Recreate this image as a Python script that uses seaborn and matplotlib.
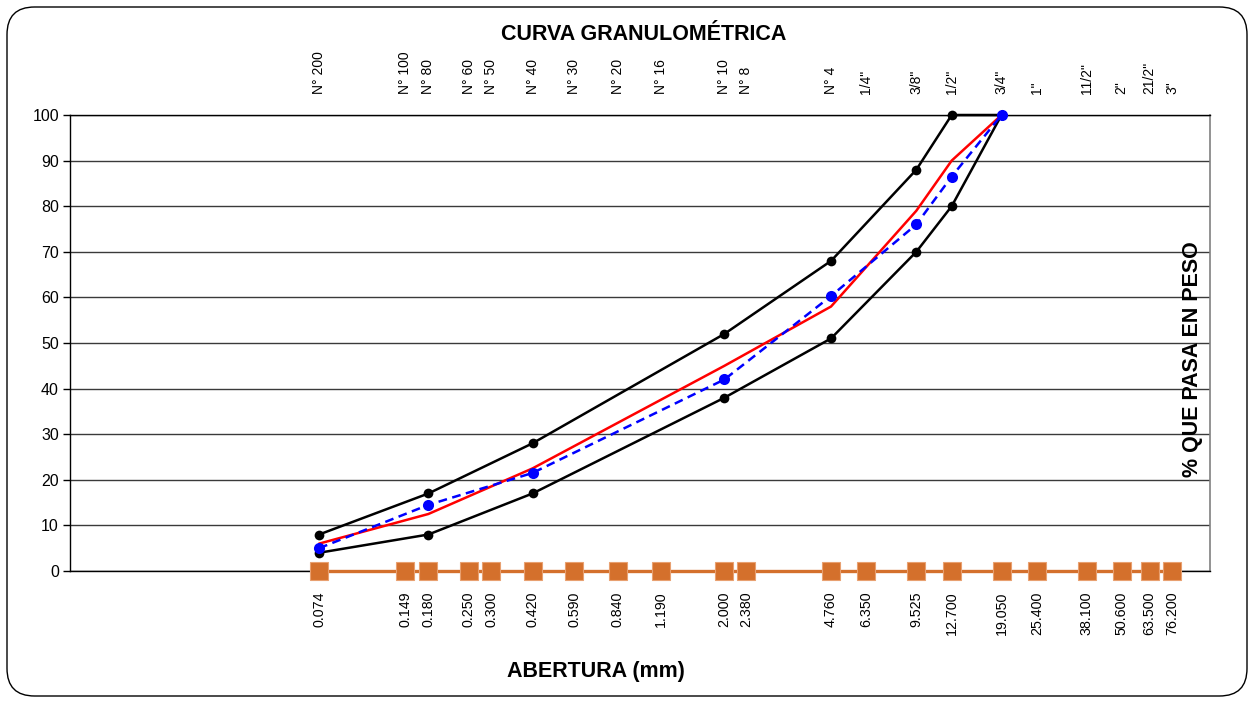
import numpy as np
import pandas as pd
import seaborn as sns
import matplotlib.pyplot as plt
from matplotlib.patches import FancyBboxPatch
from matplotlib.ticker import NullLocator

# sieve openings (mm) and names
aberturas = [0.074, 0.149, 0.180, 0.250, 0.300, 0.420, 0.590, 0.840, 1.190, 2.000, 2.380,
             4.760, 6.350, 9.525, 12.700, 19.050, 25.400, 38.100, 50.600, 63.500, 76.200]
tamices = ['N° 200', 'N° 100', 'N° 80', 'N° 60', 'N° 50', 'N° 40', 'N° 30', 'N° 20', 'N° 16',
           'N° 10', 'N° 8', 'N° 4', '1/4"', '3/8"', '1/2"', '3/4"', '1"', '11/2"', '2"', '21/2"', '3"']

# curves (% que pasa)
x_curva = [0.074, 0.180, 0.420, 2.000, 4.760, 9.525, 12.700, 19.050]
lim_sup = [8, 17, 28, 52, 68, 88, 100, 100]
lim_inf = [4, 8, 17, 38, 51, 70, 80, 100]
muestra = [5, 14.5, 21.5, 42, 60.3, 76, 86.5, 100]
ajuste = [6, 12.5, 22.5, 45, 58, 79, 90, 100]
base = [0] * len(aberturas)

sns.set_style('white')
plt.rcParams['font.family'] = ['Liberation Sans', 'DejaVu Sans']
plt.rcParams['text.color'] = 'black'
plt.rcParams['xtick.color'] = 'black'
plt.rcParams['ytick.color'] = 'black'

fig = plt.figure(figsize=(12.52, 7.03), dpi=100)
ax = fig.add_axes([70 / 1252, 1 - 571 / 703, 1140 / 1252, 456 / 703])

ax.set_xscale('log')
for y in range(10, 101, 10):
    ax.axhline(y, color='#3a3a3a', lw=1, zorder=0)
ax.axhline(0, color='black', lw=1, zorder=0)

sns.lineplot(x=aberturas, y=base, ax=ax, color='#D4702C', lw=2.4, marker='s', markersize=12.5,
             markeredgecolor='#E8A070', markeredgewidth=0.8, clip_on=False, zorder=3)
sns.lineplot(x=x_curva, y=lim_sup, ax=ax, color='black', lw=1.8, marker='o', markersize=7,
             markeredgewidth=0, clip_on=False, zorder=4)
sns.lineplot(x=x_curva, y=lim_inf, ax=ax, color='black', lw=1.8, marker='o', markersize=7,
             markeredgewidth=0, clip_on=False, zorder=4)
sns.lineplot(x=x_curva, y=ajuste, ax=ax, color='#FF0000', lw=1.8, zorder=5)
sns.lineplot(x=x_curva, y=muestra, ax=ax, color='#0000FF', lw=1.8, linestyle=(0, (3.5, 2.2)),
             marker='o', markersize=8, markeredgewidth=0, clip_on=False, zorder=6)

ax.set_xlim(0.00976, 103.8)
ax.set_ylim(0, 100)
ax.set_yticks(range(0, 101, 10))
ax.tick_params(axis='y', length=5, width=1, labelsize=11.5, pad=3, color='black', left=True)
ax.xaxis.set_minor_locator(NullLocator())
ax.set_xticks(aberturas, labels=[f'{v:.3f}' for v in aberturas])
ax.tick_params(axis='x', length=0, labelsize=10.3, rotation=90, pad=15)
ax.set_xlabel('')
ax.set_ylabel('')

secax = ax.secondary_xaxis('top')
secax.xaxis.set_minor_locator(NullLocator())
secax.set_xticks(aberturas, labels=tamices)
secax.tick_params(axis='x', length=0, labelsize=10, rotation=90, pad=15)
secax.spines['top'].set_visible(False)

for side in ['left', 'top', 'bottom']:
    ax.spines[side].set_color('black')
    ax.spines[side].set_linewidth(1)
ax.spines['right'].set_color('#808080')
ax.spines['right'].set_linewidth(1.2)

ax.text(0.985, 0.465, '% QUE PASA EN PESO', transform=ax.transAxes, rotation=90,
        ha='center', va='center', fontsize=15.5, fontweight='bold')
fig.text(644 / 1252, 1 - 35 / 703, 'CURVA GRANULOMÉTRICA', ha='center', va='center',
         fontsize=15.5, fontweight='bold')
fig.text(596 / 1252, 1 - 672 / 703, 'ABERTURA (mm)', ha='center', va='center',
         fontsize=15.5, fontweight='bold')

frame = FancyBboxPatch((7 / 1252, 7 / 703), 1240 / 1252, 689 / 703,
                       boxstyle='round,pad=0,rounding_size=0.022', transform=fig.transFigure,
                       facecolor='none', edgecolor='black', lw=1, mutation_aspect=1252 / 703)
fig.patches.append(frame)

fig.savefig('out.png', dpi=100)
